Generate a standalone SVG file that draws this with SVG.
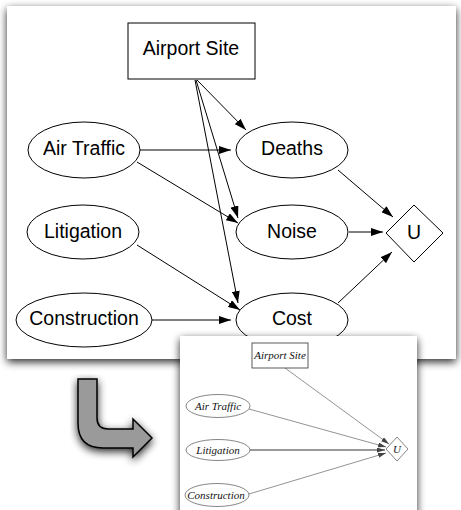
<svg xmlns="http://www.w3.org/2000/svg" width="461" height="510" viewBox="0 0 461 510">
<style>
.n{fill:#fff;stroke:#000;stroke-width:1}
.t{font-family:"Liberation Sans",Arial,sans-serif;font-size:19.5px;text-anchor:middle;dominant-baseline:central;fill:#000}
.e{stroke:#000;stroke-width:1;fill:none;marker-end:url(#ah)}
.n2{fill:#fff;stroke:#666;stroke-width:0.8}
.t2{font-family:"Liberation Serif","Times New Roman",serif;font-style:italic;font-size:11px;text-anchor:middle;dominant-baseline:central;fill:#111}
.e2{stroke:#777;stroke-width:0.8;fill:none;marker-end:url(#ah2)}
</style>
<defs>
<marker id="ah" markerWidth="12" markerHeight="8" refX="12" refY="4" orient="auto" markerUnits="userSpaceOnUse">
<path d="M0,0 L12,4 L0,8 Z" fill="#000"/>
</marker>
<marker id="ah2" markerWidth="8" markerHeight="5" refX="8" refY="2.5" orient="auto" markerUnits="userSpaceOnUse">
<path d="M0,0 L8,2.5 L0,5 Z" fill="#444"/>
</marker>
<filter id="sh" x="-10%" y="-10%" width="120%" height="125%">
<feGaussianBlur in="SourceAlpha" stdDeviation="4.5"/>
<feOffset dx="0" dy="3" result="b"/>
<feComponentTransfer><feFuncA type="linear" slope="0.85"/></feComponentTransfer>
<feMerge><feMergeNode/><feMergeNode in="SourceGraphic"/></feMerge>
</filter>
</defs>
<rect width="461" height="510" fill="#fff"/>

<g id="panel1">
<rect x="7" y="6" width="449" height="353" fill="#fff" filter="url(#sh)"/>
</g>

<g id="connectors1">
<line class="e" x1="197" y1="80" x2="246" y2="130"/>
<line class="e" x1="196" y1="80" x2="238" y2="218"/>
<line class="e" x1="195" y1="80" x2="238" y2="303"/>
<line class="e" x1="140" y1="150" x2="231" y2="150"/>
<line class="e" x1="137" y1="162" x2="238" y2="223"/>
<line class="e" x1="137" y1="245" x2="240" y2="310"/>
<line class="e" x1="152" y1="320" x2="231" y2="320"/>
<line class="e" x1="338" y1="170" x2="393" y2="217"/>
<line class="e" x1="349" y1="232" x2="383" y2="232"/>
<line class="e" x1="338" y1="303" x2="392" y2="252"/>
</g>

<g id="airport-site"><rect class="n" x="128" y="23" width="127" height="56"/><text class="t" x="191" y="48">Airport Site</text></g>
<g id="air-traffic"><ellipse class="n" cx="84" cy="150" rx="56" ry="28"/><text class="t" x="84" y="148">Air Traffic</text></g>
<g id="deaths"><ellipse class="n" cx="292" cy="150" rx="56" ry="28"/><text class="t" x="292" y="148">Deaths</text></g>
<g id="litigation"><ellipse class="n" cx="83" cy="232" rx="56" ry="27"/><text class="t" x="83" y="231">Litigation</text></g>
<g id="noise"><ellipse class="n" cx="292" cy="232" rx="56" ry="27"/><text class="t" x="292" y="231">Noise</text></g>
<g id="construction"><ellipse class="n" cx="84" cy="320" rx="68" ry="27"/><text class="t" x="84" y="318">Construction</text></g>
<g id="cost"><ellipse class="n" cx="292" cy="320" rx="56" ry="27"/><text class="t" x="292" y="318">Cost</text></g>
<g id="u"><polygon class="n" points="414,205 443,233 414,262 386,233"/><text class="t" x="414" y="232">U</text></g>

<g id="arrow">
<path d="M78,379 H97 V418 Q97,429 108,429 H133 V419 L152,438 L133,457 V448 H103 Q78,448 78,423 Z" fill="#9a9a9a" stroke="#000" stroke-width="1.5" stroke-linejoin="miter" filter="url(#sh)"/>
</g>

<g id="panel2">
<rect x="180" y="336" width="237" height="180" fill="#fff" filter="url(#sh)"/>
</g>

<g id="connectors2">
<line class="e2" x1="285" y1="368" x2="389" y2="444"/>
<line class="e2" x1="249" y1="409" x2="386" y2="447"/>
<line class="e2" x1="250" y1="450" x2="385" y2="450" style="stroke:#000"/>
<line class="e2" x1="249" y1="494" x2="386" y2="453"/>
</g>

<g id="airport-site-2"><rect class="n2" x="252" y="343" width="56" height="25" style="stroke:#333"/><text class="t2" x="280" y="355">Airport Site</text></g>
<g id="air-traffic-2"><ellipse class="n2" cx="218" cy="406" rx="32" ry="11.5"/><text class="t2" x="218" y="406">Air Traffic</text></g>
<g id="litigation-2"><ellipse class="n2" cx="218" cy="450" rx="32" ry="10.5"/><text class="t2" x="218" y="450">Litigation</text></g>
<g id="construction-2"><ellipse class="n2" cx="217" cy="495" rx="32" ry="11.5"/><text class="t2" x="216" y="495">Construction</text></g>
<g id="u-2"><polygon class="n2" points="397,437 408,449 397,461 386,449"/><text class="t2" x="397" y="449">U</text></g>
</svg>
